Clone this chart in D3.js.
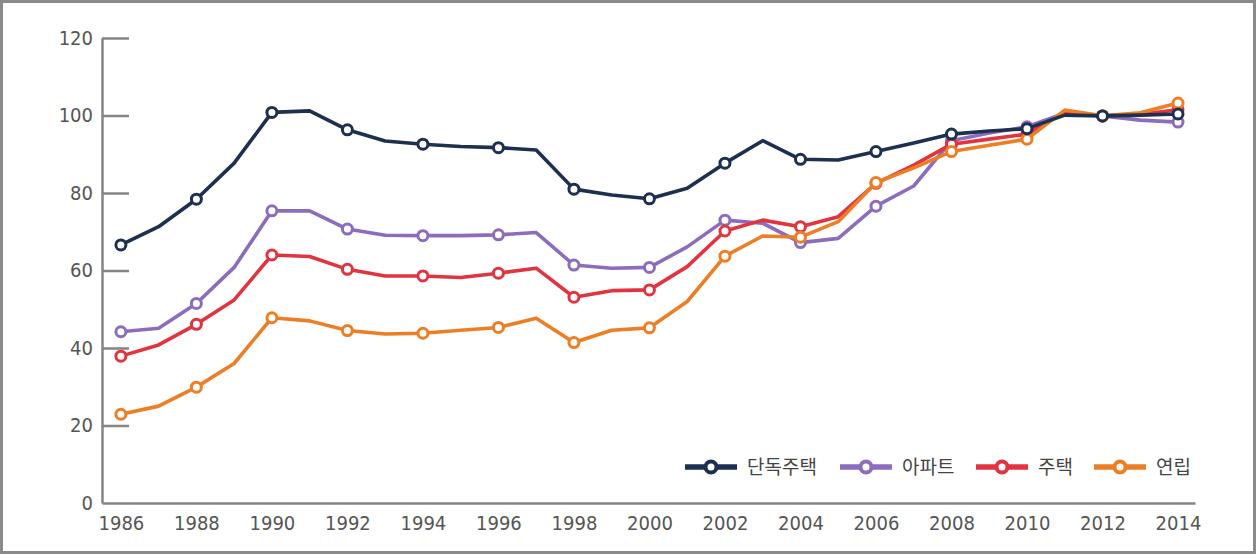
<!DOCTYPE html>
<html>
<head>
<meta charset="utf-8">
<script src="https://cdn.jsdelivr.net/npm/d3@7"></script>
<style>
  html, body { margin: 0; padding: 0; background: #fff; }
  #chart { width: 1256px; height: 554px; }
  .axis text { font-family: "Liberation Sans Narrow", "DejaVu Sans Condensed", sans-serif; font-size: 20px; fill: #555; }
  .legend text { font-family: "Noto Sans CJK KR", sans-serif; font-size: 19px; fill: #444; }
</style>
</head>
<body>
<div id="chart"><svg></svg></div>
<script>
const years = d3.range(1986, 2015);
const markerYears = d3.range(1986, 2015, 2);
const yTicks = [0, 20, 40, 60, 80, 100, 120];

const names = ["단독주택", "아파트", "주택", "연립"];
const colors = ["#1d3050", "#8c6dbd", "#e2343f", "#ee7e24"];

// 단독주택
const detached = [66.6, 71.3, 78.4, 87.7, 100.8, 101.2, 96.3, 93.4, 92.6, 92.0,
  91.7, 91.1, 81.0, 79.5, 78.5, 81.2, 87.7, 93.5, 88.7, 88.5,
  90.7, 92.9, 95.2, 96.0, 96.6, 100.1, 99.9, 100.1, 100.4];
// 아파트
const apartment = [44.2, 45.1, 51.5, 60.8, 75.4, 75.4, 70.7, 69.1, 69.0, 69.0,
  69.2, 69.8, 61.4, 60.6, 60.8, 66.1, 73.0, 72.2, 67.2, 68.3,
  76.6, 81.8, 93.5, 95.5, 97.1, 100.6, 99.9, 98.8, 98.3];
// 주택
const house = [37.9, 40.8, 46.1, 52.4, 64.0, 63.6, 60.3, 58.6, 58.6, 58.2,
  59.3, 60.6, 53.1, 54.8, 55.0, 61.0, 70.2, 73.0, 71.3, 73.9,
  82.5, 87.2, 92.6, 93.9, 95.2, 100.9, 99.9, 100.3, 101.5];
// 연립
const rowhouse = [22.9, 25.0, 29.9, 36.0, 47.8, 47.0, 44.5, 43.6, 43.8, 44.6,
  45.3, 47.7, 41.4, 44.6, 45.2, 52.0, 63.7, 68.9, 68.6, 72.6,
  82.7, 86.5, 90.7, 92.3, 93.9, 101.4, 99.9, 100.7, 103.2];

const seriesValues = [detached, apartment, house, rowhouse];

const svg = d3.select("#chart > svg").attr("width", 1256).attr("height", 554);

// frame around the picture
svg.append("rect")
  .attr("x", 1.5).attr("y", 1.5)
  .attr("width", 1253).attr("height", 551)
  .attr("fill", "none").attr("stroke", "#8a8a8a").attr("stroke-width", 3);

var x = d3.scaleLinear().domain([1985.5, 2014.45]).range([102, 1195]);
var y = d3.scaleLinear().domain([0, 120]).range([503, 38]);

const yAxis = svg.append("g")
  .attr("class", "axis")
  .attr("transform", `translate(${x(1985.5)},0)`)
  .call(d3.axisLeft(y).tickValues(yTicks).tickSizeInner(-27).tickSizeOuter(0).tickPadding(9));
yAxis.selectAll("line").attr("stroke", "#858585").attr("stroke-width", 2.5);
yAxis.select(".domain").attr("stroke", "#858585").attr("stroke-width", 2.5);
yAxis.selectAll(".tick").filter(d => d === 0).select("line").remove();

const xAxis = svg.append("g")
  .attr("class", "axis")
  .attr("transform", `translate(0,${y(0)})`)
  .call(d3.axisBottom(x).tickValues(markerYears).tickFormat(d3.format("d")).tickSize(0).tickPadding(13));
xAxis.select(".domain").attr("stroke", "#858585").attr("stroke-width", 2.5);

const line = d3.line()
  .x((d, i) => x(years[i]))
  .y(d => y(d));

// draw back to front so the dark series ends on top
const order = [1, 2, 3, 0];
order.forEach(si => {
  const vals = seriesValues[si];
  svg.append("path")
    .datum(vals)
    .attr("fill", "none")
    .attr("stroke", colors[si])
    .attr("stroke-width", 3.6)
    .attr("stroke-linejoin", "round")
    .attr("d", line);

  svg.append("g")
    .selectAll("circle")
    .data(markerYears)
    .join("circle")
    .attr("cx", d => x(d))
    .attr("cy", d => y(vals[years.indexOf(d)]))
    .attr("r", 5)
    .attr("fill", "#fff")
    .attr("stroke", colors[si])
    .attr("stroke-width", 3);
});

// legend
const legendStart = [685, 840, 976, 1094];
const legend = svg.append("g").attr("class", "legend").attr("transform", "translate(0,467)");
names.forEach((name, i) => {
  const g = legend.append("g").attr("transform", `translate(${legendStart[i]},0)`);
  g.append("line")
    .attr("x1", 0).attr("x2", 52).attr("y1", 0).attr("y2", 0)
    .attr("stroke", colors[i]).attr("stroke-width", 5.5);
  g.append("circle")
    .attr("cx", 26).attr("cy", 0).attr("r", 5.5)
    .attr("fill", "#fff").attr("stroke", colors[i]).attr("stroke-width", 4);
  g.append("text")
    .attr("x", 62).attr("y", 0).attr("dy", "0.35em")
    .text(name);
});
</script>
</body>
</html>
